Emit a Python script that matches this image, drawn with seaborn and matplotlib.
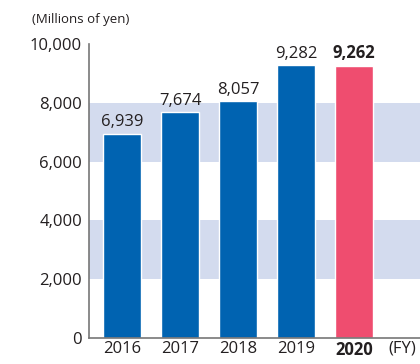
import numpy as np
import pandas as pd
import matplotlib
matplotlib.use("Agg")
import matplotlib.pyplot as plt
import seaborn as sns

# data
years = ["2016", "2017", "2018", "2019", "2020"]
sales = [6939, 7674, 8057, 9282, 9262]
bar_colors = ["#0063b1", "#0063b1", "#0063b1", "#0063b1", "#ef4d6f"]
y_ticks = [0, 2000, 4000, 6000, 8000, 10000]
bands = [(2000, 4000), (6000, 8000)]

df = pd.DataFrame({"year": years, "sales": sales})

sns.set_style("white")
plt.rcParams["font.family"] = ["Open Sans", "DejaVu Sans"]
txt = "#231f20"

fig = plt.figure(figsize=(4.2, 3.64), dpi=100)
ax = fig.add_axes([89 / 420, 26 / 364, 331 / 420, 294 / 364])

for lo, hi in bands:
    ax.axhspan(lo, hi, color="#d3dbee", lw=0, zorder=0)

sns.barplot(data=df, x="year", y="sales", hue="year", palette=bar_colors,
            legend=False, width=0.65, saturation=1, ax=ax, zorder=2)

for i, v in enumerate(sales):
    ax.text(i, v + 120, f"{v:,}", ha="center", va="bottom", fontsize=12,
            color=txt, fontweight="bold" if i == len(sales) - 1 else "normal")

ax.set_ylim(0, 10000)
ax.set_xlim(-0.57, 5.14)
ax.set_yticks(y_ticks)
ax.set_yticklabels([f"{t:,}" for t in y_ticks], fontsize=12, color=txt)
ax.tick_params(axis="y", length=0, pad=5)
ax.tick_params(axis="x", length=0, pad=2)
ax.set_xticks(range(len(years)))
ax.set_xticklabels(years, fontsize=12, color=txt)
ax.get_xticklabels()[-1].set_fontweight("bold")
ax.set_xlabel("")
ax.set_ylabel("")

for s in ["top", "right"]:
    ax.spines[s].set_visible(False)
for s in ["left", "bottom"]:
    ax.spines[s].set_color("#777777")
    ax.spines[s].set_linewidth(1.2)

ax.annotate("(FY)", xy=(4.83, 0), xytext=(0, -2), textcoords="offset points",
            ha="center", va="top", fontsize=12, color=txt)
fig.text(32 / 420, 1 - 19 / 364, "(Millions of yen)", fontsize=9.5, color=txt,
         ha="left", va="center")

fig.savefig("out.png", dpi=100)
